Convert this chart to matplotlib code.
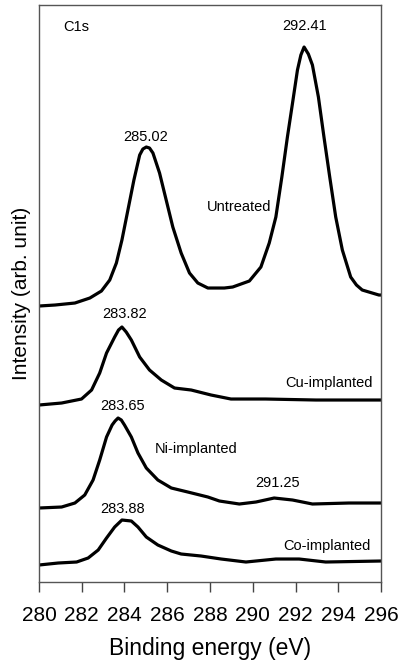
import numpy as np
import matplotlib
matplotlib.use("Agg")
import matplotlib.pyplot as plt

plt.rcParams["font.family"] = ["Liberation Sans", "DejaVu Sans"]

# C1s spectra (binding energy in eV, intensity in arb. units)
e_untreated = [280.0, 280.75, 281.68, 282.38, 282.92, 283.31, 283.62, 283.88, 284.16,
               284.44, 284.71, 284.86, 285.02, 285.17, 285.33, 285.64, 285.95, 286.26,
               286.65, 287.04, 287.43, 287.9, 288.67, 289.06, 289.84, 290.38, 290.77,
               291.08, 291.36, 291.62, 291.86, 292.09, 292.25, 292.4, 292.6, 292.79,
               293.07, 293.33, 293.6, 293.88, 294.19, 294.58, 294.85, 295.12, 295.9, 296.0]
i_untreated = [276, 277, 279, 284, 291, 302, 319, 342, 372,
               402, 427, 433, 435, 434, 429, 409, 382, 355,
               329, 309, 299, 294, 294, 295, 301, 315, 339,
               365, 405, 445, 479, 512, 527, 535, 528, 517,
               485, 445, 405, 365, 332, 305, 297, 292, 287, 287]

e_cu = [280.0, 281.06, 281.99, 282.46, 282.84, 283.16, 283.54, 283.72, 283.88, 284.08,
        284.32, 284.71, 285.17, 285.72, 286.34, 287.12, 288.05, 288.98, 290.6, 292.95,
        296.0]
i_cu = [177, 179, 183, 192, 209, 229, 245, 252, 255, 250,
        242, 225, 212, 202, 194, 192, 187, 183, 183, 182,
        182]

e_ni = [280.0, 281.06, 281.68, 282.14, 282.53, 282.84, 283.16, 283.42, 283.56, 283.7,
        283.85, 284.0, 284.32, 284.63, 285.02, 285.56, 286.19, 286.96, 287.9, 288.44,
        289.37, 290.15, 291.0, 291.86, 292.79, 294.5, 296.0]
i_ni = [74, 75, 79, 87, 102, 122, 145, 157, 161, 164,
        162, 157, 145, 129, 114, 102, 94, 90, 85, 81,
        78, 80, 84, 82, 78, 79, 79]

e_co = [280.0, 280.9, 281.76, 282.3, 282.77, 283.16, 283.54, 283.88, 284.32, 284.63,
        285.02, 285.56, 286.19, 286.65, 287.58, 288.52, 289.68, 291.08, 292.17, 293.41,
        296.0]
i_co = [17, 19, 20, 24, 32, 44, 55, 62, 61, 55,
        45, 37, 31, 28, 26, 23, 20, 23, 23, 20,
        21]

x_ticks = [280, 282, 284, 286, 288, 290, 292, 294, 296]

fig = plt.figure(figsize=(3.99, 6.61), dpi=100)
ax = fig.add_axes([0.0977, 0.1195, 0.8573, 0.8729])

for e, i in [(e_untreated, i_untreated), (e_cu, i_cu), (e_ni, i_ni), (e_co, i_co)]:
    ax.plot(e, i, color="black", lw=2.3, solid_joinstyle="round")

ax.set_xlim(280, 296)
ax.set_ylim(0, 577)
ax.set_xticks(x_ticks)
ax.set_yticks([])
ax.tick_params(axis="x", direction="out", length=7, width=1, colors="#444444",
               labelsize=15, labelcolor="black", pad=10)
for s in ax.spines.values():
    s.set_color("#555555")
    s.set_linewidth(1)

ax.set_xlabel("Binding energy (eV)", fontsize=16.5, labelpad=9)
ax.set_ylabel("Intensity (arb. unit)", fontsize=15, labelpad=6)

fs = 10.5
ax.text(281.12, 555, "C1s", fontsize=fs, ha="left", va="center")
ax.text(292.4, 556, "292.41", fontsize=fs, ha="center", va="center")
ax.text(285.0, 445, "285.02", fontsize=fs, ha="center", va="center")
ax.text(289.37, 375, "Untreated", fontsize=fs, ha="center", va="center")
ax.text(284.0, 268, "283.82", fontsize=fs, ha="center", va="center")
ax.text(295.62, 199, "Cu-implanted", fontsize=fs, ha="right", va="center")
ax.text(283.91, 176, "283.65", fontsize=fs, ha="center", va="center")
ax.text(287.37, 133, "Ni-implanted", fontsize=fs, ha="center", va="center")
ax.text(291.14, 99, "291.25", fontsize=fs, ha="center", va="center")
ax.text(283.91, 73, "283.88", fontsize=fs, ha="center", va="center")
ax.text(295.53, 36, "Co-implanted", fontsize=fs, ha="right", va="center")

fig.savefig("out.png", dpi=100)
